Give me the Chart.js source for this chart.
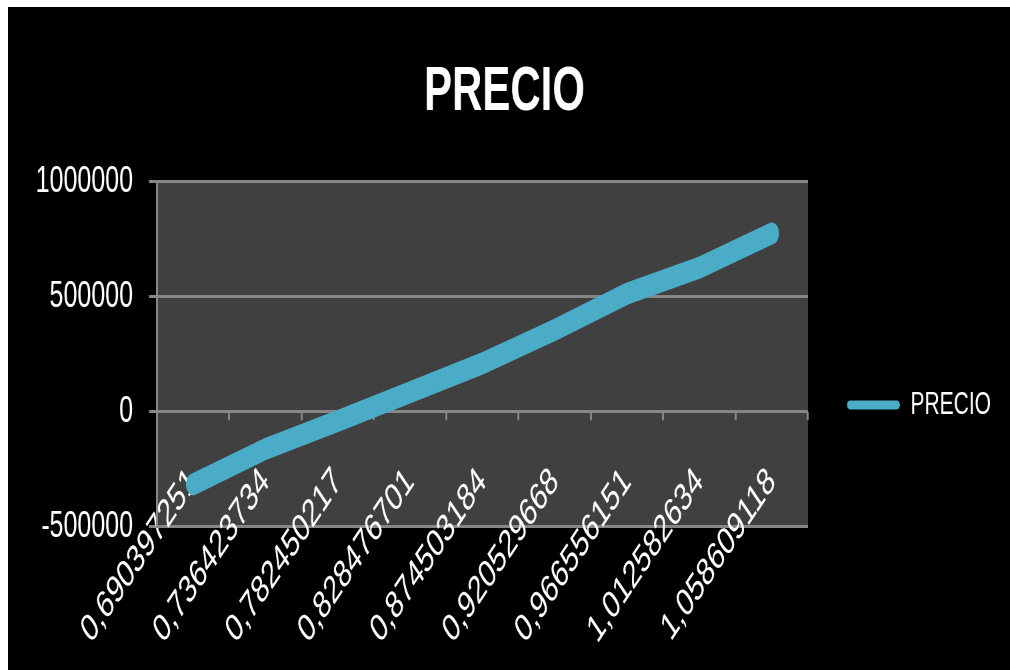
<!DOCTYPE html>
<html>
<head>
<meta charset="utf-8">
<script src="https://cdn.jsdelivr.net/npm/chart.js@4.4.1/dist/chart.umd.min.js"></script>
<style>
    html, body { margin: 0; padding: 0; background: #ffffff; overflow: hidden; }
    #frame { position: absolute; left: 8px; top: 7px; width: 1002px; height: 663px; background: #000000; }
    /* the chart is drawn squat and stretched tall, like the original picture */
    #precioChart { position: absolute; left: 0; top: 0; }
</style>
</head>
<body>
<div id="frame">
    <canvas id="precioChart" width="1002" height="440" style="width:1002px;height:660px;"></canvas>
</div>
<script>
// data
const categories = ['0,690397251', '0,736423734', '0,782450217', '0,828476701', '0,874503184',
    '0,920529668', '0,966556151', '1,012582634', '1,058609118'];
const precio = [-316000, -162000, -40000, 85000, 210000, 356000, 513000, 626000, 775000];
const yTicks = [-500000, 0, 500000, 1000000];

const lineColor = '#4aacc6';
const gridColor = '#868686';

// plot area background
const plotBackground = {
    id: 'plotBackground',
    beforeDraw(chart) {
        const a = chart.chartArea;
        const ctx = chart.ctx;
        ctx.save();
        ctx.fillStyle = '#404040';
        ctx.fillRect(a.left, a.top, a.right - a.left, a.bottom - a.top);
        ctx.restore();
    }
};

const ctx = document.getElementById('precioChart').getContext('2d');
const myChart = new Chart(ctx, {
    type: 'line',
    data: {
        labels: categories,
        datasets: [{
            label: 'PRECIO',
            data: precio,
            borderColor: lineColor,
            backgroundColor: lineColor,
            borderWidth: 14.5,
            borderCapStyle: 'round',
            borderJoinStyle: 'round',
            pointRadius: 0,
            tension: 0
        }]
    },
    options: {
        responsive: false,
        devicePixelRatio: 1.5,
        animation: false,
        layout: {
            padding: { left: 0, right: 9, top: 0, bottom: 93.5 }
        },
        plugins: {
            title: {
                display: true,
                text: 'PRECIO',
                color: '#ffffff',
                font: { family: "'Liberation Sans', sans-serif", size: 42 },
                padding: { top: 32, bottom: 34 }
            },
            legend: {
                position: 'right',
                title: {
                    display: true,
                    text: '',
                    font: { size: 10 },
                    padding: { top: 172, bottom: 0 }
                },
                labels: {
                    color: '#ffffff',
                    font: { family: "'Liberation Sans', sans-serif", size: 21 },
                    boxWidth: 53,
                    boxHeight: 6,
                    padding: 39,
                    useBorderRadius: true,
                    borderRadius: 3,
                    generateLabels: function (chart) {
                        return chart.data.datasets.map(function (ds, i) {
                            return {
                                text: ds.label,
                                fillStyle: lineColor,
                                strokeStyle: lineColor,
                                lineWidth: 0,
                                fontColor: '#ffffff',
                                borderRadius: 3,
                                datasetIndex: i
                            };
                        });
                    }
                }
            },
            tooltip: { enabled: false }
        },
        scales: {
            x: {
                position: { y: 0 },
                offset: true,
                z: 1,
                border: { display: false },
                grid: {
                    offset: true,
                    drawOnChartArea: false,
                    color: gridColor,
                    lineWidth: 2,
                    tickLength: 5.5
                },
                ticks: {
                    color: '#ffffff',
                    font: { family: "'Liberation Sans', sans-serif", size: 26 },
                    minRotation: 45,
                    maxRotation: 45,
                    autoSkip: false,
                    padding: 26
                }
            },
            y: {
                min: yTicks[0],
                max: yTicks[yTicks.length - 1],
                afterFit: function (scale) { scale.width = 149; },
                afterBuildTicks: function (scale) {
                    scale.ticks = yTicks.map(function (v) { return { value: v }; });
                },
                border: { display: true, color: gridColor, width: 2 },
                grid: {
                    color: gridColor,
                    lineWidth: 2,
                    tickLength: 8
                },
                ticks: {
                    color: '#ffffff',
                    font: { family: "'Liberation Sans', sans-serif", size: 25 },
                    padding: 16,
                    callback: function (v) { return String(v); }
                }
            }
        }
    },
    plugins: [plotBackground]
});
</script>
</body>
</html>
